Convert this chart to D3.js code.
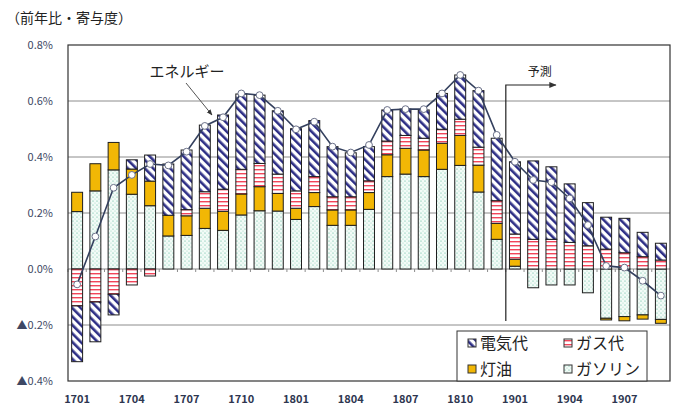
<!DOCTYPE html>
<html>
<head>
<meta charset="utf-8">
<script src="https://cdn.jsdelivr.net/npm/d3@7"></script>
<style>
  body { margin: 0; background: #fff; }
  svg { display: block; }
  text { font-family: "Noto Sans CJK JP", "Noto Sans", sans-serif; }
</style>
</head>
<body>
<svg id="chart" width="678" height="407"></svg>
<script>
// months, 2017/01 .. 2019/09 (yymm)
var months = ["1701","1702","1703","1704","1705","1706","1707","1708","1709","1710","1711","1712",
              "1801","1802","1803","1804","1805","1806","1807","1808","1809","1810","1811","1812",
              "1901","1902","1903","1904","1905","1906","1907","1908","1909"];
var tickMonths = ["1701","1704","1707","1710","1801","1804","1807","1810","1901","1904","1907"];

// contributions (% pt)
var gasoline = [0.205,0.279,0.354,0.267,0.226,0.118,0.120,0.145,0.138,0.193,0.208,0.207,
                0.177,0.223,0.156,0.156,0.213,0.330,0.339,0.330,0.356,0.370,0.275,0.106,
                0.010,-0.067,-0.057,-0.057,-0.085,-0.176,-0.170,-0.164,-0.180];
var kerosene = [0.069,0.097,0.098,0.090,0.088,0.074,0.070,0.072,0.068,0.075,0.086,0.063,
                0.040,0.050,0.055,0.055,0.060,0.078,0.092,0.095,0.093,0.107,0.096,0.057,
                0.025,0.0,0.0,0.0,0.0,-0.006,-0.015,-0.015,-0.014];
var gasfee   = [-0.132,-0.118,-0.090,-0.057,-0.025,0.0,0.022,0.059,0.079,0.088,0.083,0.069,
                0.062,0.057,0.047,0.047,0.042,0.049,0.046,0.042,0.050,0.058,0.064,0.081,
                0.090,0.106,0.106,0.095,0.083,0.071,0.058,0.044,0.032];
var electric = [-0.199,-0.142,-0.074,0.033,0.093,0.183,0.213,0.238,0.265,0.269,0.244,0.226,
                0.222,0.200,0.179,0.157,0.122,0.111,0.094,0.101,0.128,0.158,0.202,0.223,
                0.258,0.280,0.259,0.209,0.154,0.114,0.123,0.087,0.060];
// energy total (line)
var energy   = [-0.055,0.116,0.290,0.336,0.375,0.370,0.419,0.511,0.542,0.627,0.621,0.565,
                0.499,0.526,0.437,0.416,0.443,0.568,0.571,0.571,0.627,0.693,0.637,0.479,
                0.383,0.318,0.310,0.252,0.157,0.011,0.005,-0.042,-0.095];

var yTicks = [0.8, 0.6, 0.4, 0.2, 0.0, -0.2, -0.4];

var svg = d3.select("#chart");
var plotLeft = 68, plotRight = 670, plotTop = 45, plotBottom = 381;

var x = d3.scaleBand().domain(months).range([plotLeft, plotRight]).paddingInner(0.4).paddingOuter(0.2);
var y = d3.scaleLinear().domain([-0.4, 0.8]).range([plotBottom, plotTop]);

// patterns
var defs = svg.append("defs");
var pElec = defs.append("pattern").attr("id", "p-elec").attr("patternUnits", "userSpaceOnUse")
    .attr("width", 6).attr("height", 6).attr("patternTransform", "rotate(-45)");
pElec.append("rect").attr("width", 6).attr("height", 6).attr("fill", "#fff");
pElec.append("rect").attr("x", 0).attr("y", 0).attr("width", 2.6).attr("height", 6).attr("fill", "#2e2f86");

var pGas = defs.append("pattern").attr("id", "p-gas").attr("patternUnits", "userSpaceOnUse")
    .attr("width", 4).attr("height", 4);
pGas.append("rect").attr("width", 4).attr("height", 4).attr("fill", "#fff");
pGas.append("rect").attr("y", 1).attr("width", 4).attr("height", 1.4).attr("fill", "#f2455a");

var pGsl = defs.append("pattern").attr("id", "p-gsl").attr("patternUnits", "userSpaceOnUse")
    .attr("width", 4).attr("height", 4);
pGsl.append("rect").attr("width", 4).attr("height", 4).attr("fill", "#f3fbf7");
pGsl.append("circle").attr("cx", 1).attr("cy", 1).attr("r", 0.6).attr("fill", "#4fb596");
pGsl.append("circle").attr("cx", 3).attr("cy", 3).attr("r", 0.6).attr("fill", "#9fd8c3");

var series = [
    {key: "gasoline", name: "ガソリン", values: gasoline, fill: "url(#p-gsl)"},
    {key: "kerosene", name: "灯油", values: kerosene, fill: "#f2b705"},
    {key: "gas", name: "ガス代", values: gasfee, fill: "url(#p-gas)"},
    {key: "electric", name: "電気代", values: electric, fill: "url(#p-elec)"}
];

var table = months.map(function(m, i) {
    var row = {month: m};
    series.forEach(function(s) { row[s.key] = s.values[i]; });
    return row;
});

var stack = d3.stack()
    .keys(series.map(function(s) { return s.key; }))
    .offset(d3.stackOffsetDiverging);
var stacked = stack(table);

// grid lines
svg.append("g").selectAll("line")
    .data(yTicks.filter(function(t) { return t > -0.4 && t < 0.8; }))
    .enter().append("line")
    .attr("x1", plotLeft).attr("x2", plotRight)
    .attr("y1", function(d) { return y(d); }).attr("y2", function(d) { return y(d); })
    .attr("stroke", "#8c8c8c").attr("stroke-width", 1);

// y labels
svg.append("g").selectAll("text")
    .data(yTicks)
    .enter().append("text")
    .attr("x", 53).attr("y", function(d) { return y(d) + 4; })
    .attr("text-anchor", "end")
    .attr("font-size", 11)
    .attr("fill", "#3d4763")
    .text(function(d) {
        var s = Math.abs(d).toFixed(1) + "%";
        return d < 0 ? "▲" + s : s;
    });

// bars
var layer = svg.append("g").selectAll("g")
    .data(stacked)
    .enter().append("g")
    .attr("fill", function(d, i) { return series[i].fill; });

layer.selectAll("rect")
    .data(function(d) { return d.filter(function(p) { return p[1] - p[0] !== 0; }); })
    .enter().append("rect")
    .attr("x", function(d) { return x(d.data.month); })
    .attr("width", x.bandwidth())
    .attr("y", function(d) { return y(d[1]); })
    .attr("height", function(d) { return y(d[0]) - y(d[1]); })
    .attr("stroke", "#1e1e1e").attr("stroke-width", 1);

// tick marks on zero line
var step = x.step();
svg.append("g").selectAll("line")
    .data(months)
    .enter().append("line")
    .attr("x1", function(d) { return x(d) - step * 0.2; })
    .attr("x2", function(d) { return x(d) - step * 0.2; })
    .attr("y1", y(0)).attr("y2", y(0) + 3)
    .attr("stroke", "#8c8c8c");

// frame
svg.append("rect")
    .attr("x", plotLeft).attr("y", plotTop)
    .attr("width", plotRight - plotLeft).attr("height", plotBottom - plotTop)
    .attr("fill", "none").attr("stroke", "#333").attr("stroke-width", 1.2);

// energy line
var line = d3.line()
    .x(function(d, i) { return x(months[i]) + x.bandwidth() / 2; })
    .y(function(d) { return y(d); });

svg.append("path")
    .datum(energy)
    .attr("d", line)
    .attr("fill", "none").attr("stroke", "#34405e").attr("stroke-width", 1.6);

svg.append("g").selectAll("circle")
    .data(energy)
    .enter().append("circle")
    .attr("cx", function(d, i) { return x(months[i]) + x.bandwidth() / 2; })
    .attr("cy", function(d) { return y(d); })
    .attr("r", 3.4)
    .attr("fill", "#fff").attr("stroke", "#6a7088").attr("stroke-width", 1);

// x labels
svg.append("g").selectAll("text")
    .data(tickMonths)
    .enter().append("text")
    .attr("x", function(d) { return x(d) + x.bandwidth() / 2; })
    .attr("y", 403)
    .attr("text-anchor", "middle")
    .attr("font-size", 11)
    .attr("font-weight", "bold")
    .attr("fill", "#2e3650")
    .text(function(d) { return d; });

// title
svg.append("text")
    .attr("x", 6).attr("y", 23)
    .attr("font-size", 14)
    .attr("fill", "#222")
    .text("（前年比・寄与度）");

// arrow markers
defs.append("marker").attr("id", "arrow")
    .attr("viewBox", "0 0 10 10").attr("refX", 9).attr("refY", 5)
    .attr("markerWidth", 6).attr("markerHeight", 6).attr("orient", "auto")
    .append("path").attr("d", "M0,1 L10,5 L0,9 Z").attr("fill", "#333");

// annotation
svg.append("text")
    .attr("x", 187).attr("y", 77)
    .attr("text-anchor", "middle")
    .attr("font-size", 15)
    .attr("fill", "#222")
    .text("エネルギー");
svg.append("line")
    .attr("x1", 186).attr("y1", 83).attr("x2", 212).attr("y2", 115)
    .attr("stroke", "#555").attr("stroke-width", 1)
    .attr("marker-end", "url(#arrow)");

// forecast marker
var fx = (x("1812") + x("1901") + x.bandwidth()) / 2;
svg.append("path")
    .attr("d", "M" + fx + ",321 L" + fx + ",85 L" + (fx + 50) + ",85")
    .attr("fill", "none").attr("stroke", "#222").attr("stroke-width", 1.2)
    .attr("marker-end", "url(#arrow)");
svg.append("text")
    .attr("x", fx + 34).attr("y", 76)
    .attr("text-anchor", "middle")
    .attr("font-size", 12)
    .attr("fill", "#222")
    .text("予測");

// legend
var lg = svg.append("g");
lg.append("rect")
    .attr("x", 457).attr("y", 331).attr("width", 190).attr("height", 50)
    .attr("fill", "#fff").attr("stroke", "#333").attr("stroke-width", 1);

var legendItems = [
    {s: series[3], col: 0, row: 0},
    {s: series[2], col: 1, row: 0},
    {s: series[1], col: 0, row: 1},
    {s: series[0], col: 1, row: 1}
];
var items = lg.selectAll("g.item")
    .data(legendItems)
    .enter().append("g")
    .attr("class", "item")
    .attr("transform", function(d) {
        return "translate(" + (468 + d.col * 96) + "," + (343 + d.row * 26) + ")";
    });
items.append("rect")
    .attr("x", 0).attr("y", -4).attr("width", 8).attr("height", 8)
    .attr("fill", function(d) { return d.s.fill; })
    .attr("stroke", "#333").attr("stroke-width", 1);
items.append("text")
    .attr("x", 12).attr("y", 6)
    .attr("font-size", 16)
    .attr("fill", "#222")
    .text(function(d) { return d.s.name; });
</script>
</body>
</html>
